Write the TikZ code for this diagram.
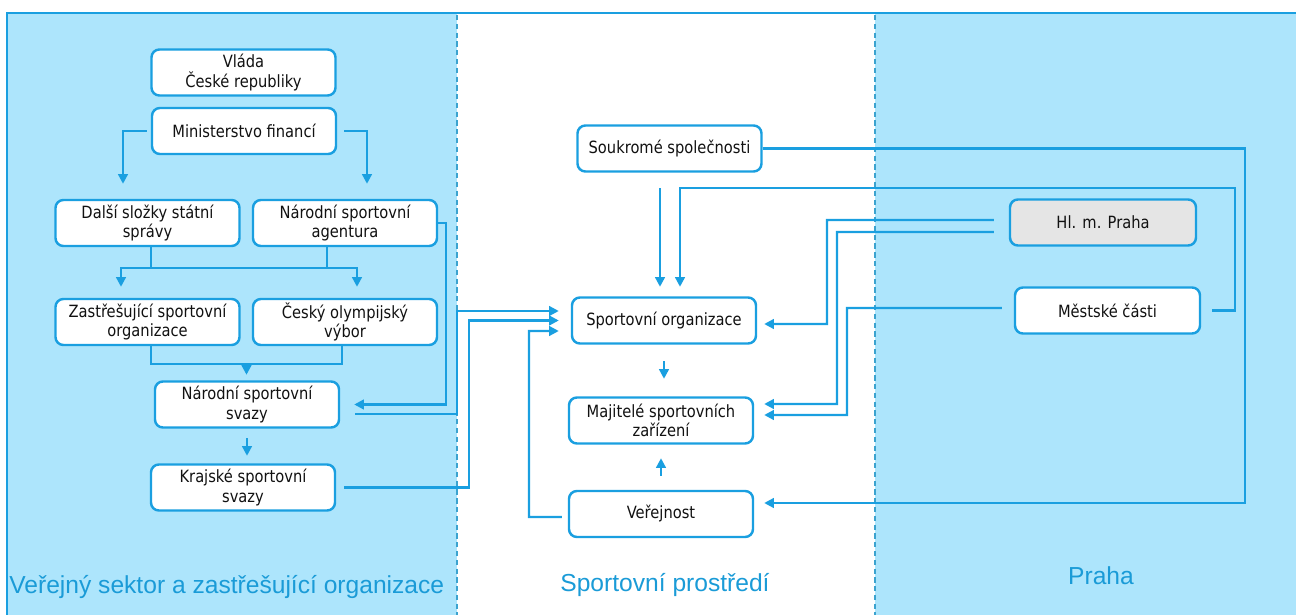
\documentclass[tikz,border=0pt]{standalone}
\usepackage{fontspec}
\setmainfont{DejaVu Sans}[FakeStretch=0.87]
\newfontfamily\labelfont{Liberation Sans}
\usetikzlibrary{arrows.meta}
\definecolor{panel-bg}{HTML}{ADE5FC}
\definecolor{line-blue}{HTML}{1A9FE0}
\definecolor{divider-blue}{HTML}{3BA3CF}
\definecolor{label-blue}{HTML}{1A9BD7}
\definecolor{box-gray}{HTML}{E5E5E5}
\definecolor{text-dark}{HTML}{111111}

\begin{document}
\begin{tikzpicture}[
    every node/.style={font=\fontsize{9.6}{11}\selectfont, text=text-dark},
    box/.style={draw=line-blue, line width=1.4pt, rounded corners=4.5pt, fill=white, minimum width=3.68cm, minimum height=0.92cm, inner sep=0pt, align=center},
    conn/.style={draw=line-blue, line width=1.3pt, -{Triangle[length=5.5pt, width=5.5pt]}},
    link/.style={draw=line-blue, line width=1.3pt},
    region/.style={font=\labelfont\fontsize{14}{16}\selectfont, text=label-blue, inner sep=0pt}]
    \useasboundingbox (0, 0) rectangle (25.92, -12.3);

    % background panels
    \fill[panel-bg] (0.14, -0.26) rectangle (9.14, -12.3);
    \fill[panel-bg] (17.5, -0.26) rectangle (25.92, -12.3);
    \draw[line-blue, line width=1.4pt] (0.14, -12.3) -- (0.14, -0.26) -- (25.92, -0.26);
    \draw[divider-blue, line width=0.9pt, dash pattern=on 3pt off 2pt] (9.14, -0.3) -- (9.14, -12.3);
    \draw[divider-blue, line width=0.9pt, dash pattern=on 3pt off 2pt] (17.5, -0.3) -- (17.5, -12.3);

    \node[region, anchor=base west] (lblverej) at (0.18, -11.86) {Veřejný sektor a zastřešující organizace};
    \node[region, anchor=base] (lblsport) at (13.3, -11.82) {Sportovní prostředí};
    \node[region, anchor=base] (lblpraha) at (22.02, -11.68) {Praha};

    % public sector
    \node[box] (vlada) at (4.87, -1.45) {Vláda\\České republiky};
    \node[box] (minfin) at (4.88, -2.62) {Ministerstvo financí};
    \node[box] (dalsi) at (2.95, -4.46) {Další složky státní\\správy};
    \node[box] (nsa) at (6.9, -4.46) {Národní sportovní\\agentura};
    \node[box] (zastr) at (2.95, -6.44) {Zastřešující sportovní\\organizace};
    \node[box] (cov) at (6.9, -6.44) {Český olympijský\\výbor};
    \node[box] (nss) at (4.94, -8.09) {Národní sportovní\\svazy};
    \node[box] (kss) at (4.86, -9.75) {Krajské sportovní\\svazy};

    % sport environment
    \node[box] (soukr) at (13.39, -2.97) {Soukromé společnosti};
    \node[box] (sporg) at (13.28, -6.41) {Sportovní organizace};
    \node[box] (majit) at (13.22, -8.41) {Majitelé sportovních\\zařízení};
    \node[box] (verej) at (13.22, -10.28) {Veřejnost};

    % Prague
    \node[box, fill=box-gray, minimum width=3.72cm] (hlmp) at (22.06, -4.45) {Hl. m. Praha};
    \node[box, minimum width=3.7cm] (mestske) at (22.15, -6.21) {Městské části};

    \coordinate (fork1) at (4.78, -5.36);
    \coordinate (fork2) at (4.93, -7.28);

    \draw[conn, shorten <=0.08cm, shorten >=0.3cm] (minfin.west) -| ([xshift=-0.49cm]dalsi.north);
    \draw[conn, shorten <=0.14cm, shorten >=0.3cm] (minfin.east) -| ([xshift=0.44cm]nsa.north);
    \draw[link] ([xshift=0.07cm]dalsi.south) -- ([xshift=0.07cm]dalsi.south |- fork1);
    \draw[link] ([xshift=-0.36cm]nsa.south) -- ([xshift=-0.36cm]nsa.south |- fork1);
    \draw[conn, shorten >=0.22cm] (fork1) -| ([xshift=-0.53cm]zastr.north);
    \draw[conn, shorten >=0.22cm] (fork1) -| ([xshift=0.24cm]cov.north);
    \draw[link] ([xshift=0.07cm]zastr.south) |- (fork2) -| ([xshift=-0.06cm]cov.south);
    \draw[conn, shorten >=0.11cm] (fork2) -- (fork2 |- nss.north);
    \draw[conn, shorten <=0.19cm, shorten >=0.15cm] (nss.south) -- (nss.south |- kss.north);
    \draw[conn, shorten >=0.28cm] (nsa.east) -- ++(0.16, 0) |- (nss.east);
    \draw[conn, shorten <=0.3cm, shorten >=0.24cm] ([yshift=-0.19cm]nss.east) -- (9.14, -8.28) |- ([yshift=0.19cm]sporg.west);
    \draw[conn, shorten <=0.16cm, shorten >=0.24cm] (kss.east) -- (9.38, -9.75) |- (sporg.west);

    \draw[conn, shorten <=0.12cm, shorten >=0.24cm] ([yshift=-0.06cm]verej.west) -| (10.58, -6.62) -- ([yshift=-0.21cm]sporg.west);
    \draw[conn, shorten <=0.31cm, shorten >=0.19cm] ([xshift=-0.19cm]soukr.south) -- ([xshift=-0.19cm]soukr.south |- sporg.north);
    \draw[conn, shorten >=0.2cm] (soukr.east) -| (24.9, -10.06) -- ([yshift=0.22cm]verej.east);
    \draw[conn, shorten <=0.33cm, shorten >=0.35cm] (sporg.south) -- (sporg.south |- majit.north);
    \draw[conn, shorten <=0.28cm, shorten >=0.27cm] (verej.north) -- (majit.south);

    \draw[conn, shorten <=0.22cm, shorten >=0.19cm] (mestske.east) -- (24.7, -6.21) |- (13.6, -3.76) -- ([xshift=0.32cm]sporg.north);
    \draw[conn, shorten <=0.3cm, shorten >=0.14cm] ([yshift=0.05cm]hlmp.west) -| (16.54, -6.48) -- ([yshift=-0.07cm]sporg.east);
    \draw[conn, shorten <=0.3cm, shorten >=0.2cm] ([yshift=-0.19cm]hlmp.west) -| (16.74, -8.08) -- ([yshift=0.33cm]majit.east);
    \draw[conn, shorten <=0.24cm, shorten >=0.2cm] ([yshift=0.05cm]mestske.west) -| (16.94, -8.3) -- ([yshift=0.11cm]majit.east);
\end{tikzpicture}
\end{document}
